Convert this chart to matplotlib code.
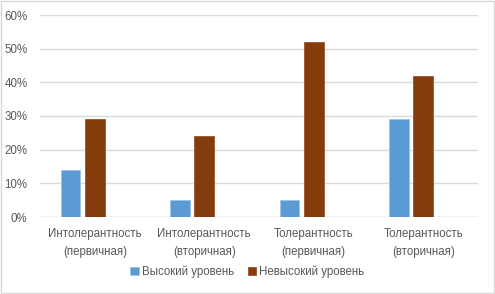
import numpy as np
import matplotlib.pyplot as plt
from matplotlib.patches import Rectangle

categories = ["Интолерантность\n(первичная)", "Интолерантность\n(вторичная)",
              "Толерантность\n(первичная)", "Толерантность\n(вторичная)"]
high = [14, 5, 5, 29]
not_high = [29, 24, 52, 42]
labels = ["Высокий уровень", "Невысокий уровень"]

plt.rcParams['font.family'] = ['Liberation Sans', 'DejaVu Sans']

fig = plt.figure(figsize=(4.95, 2.94), dpi=100)
ax = fig.add_axes([40 / 495, 1 - 217 / 294, 438 / 495, 202 / 294])

x = np.arange(len(categories))
pitch = 0.222  # three slots per group in the original (third one is empty)
w = 0.18
ax.bar(x - pitch, high, w, color="#5B9BD5", edgecolor="#9DC3E6", linewidth=0.6, label=labels[0], zorder=3)
ax.bar(x, not_high, w, color="#843C0C", edgecolor="#A0522D", linewidth=0.6, label=labels[1], zorder=3)

ax.set_xlim(-0.5, 3.5)
ax.set_ylim(0, 60)
ax.set_yticks(range(0, 61, 10))
ax.set_yticklabels([f"{v}%" for v in range(0, 61, 10)])
ax.set_xticks(x)
ax.set_xticklabels(categories, linespacing=1.6)
ax.grid(axis="y", color="#D9D9D9", linewidth=1, zorder=0)
for s in ax.spines.values():
    s.set_visible(False)
ax.axhline(0, color="#D9D9D9", linewidth=1, zorder=1)
ax.tick_params(length=0, labelsize=8.3, colors="#595959", pad=8)
ax.tick_params(axis="y", pad=9)

ax.legend(loc="center", bbox_to_anchor=(0.5, 1 - 272 / 294), bbox_transform=fig.transFigure,
          ncol=2, frameon=False, fontsize=8.3, labelcolor="#595959",
          handlelength=0.7, handleheight=0.7, handletextpad=0.3, columnspacing=1.2)

fig.patches.append(Rectangle((0.002, 0.003), 0.995, 0.993, transform=fig.transFigure,
                             fill=False, edgecolor="#D9D9D9", linewidth=1))

fig.savefig("out.png", dpi=100)
